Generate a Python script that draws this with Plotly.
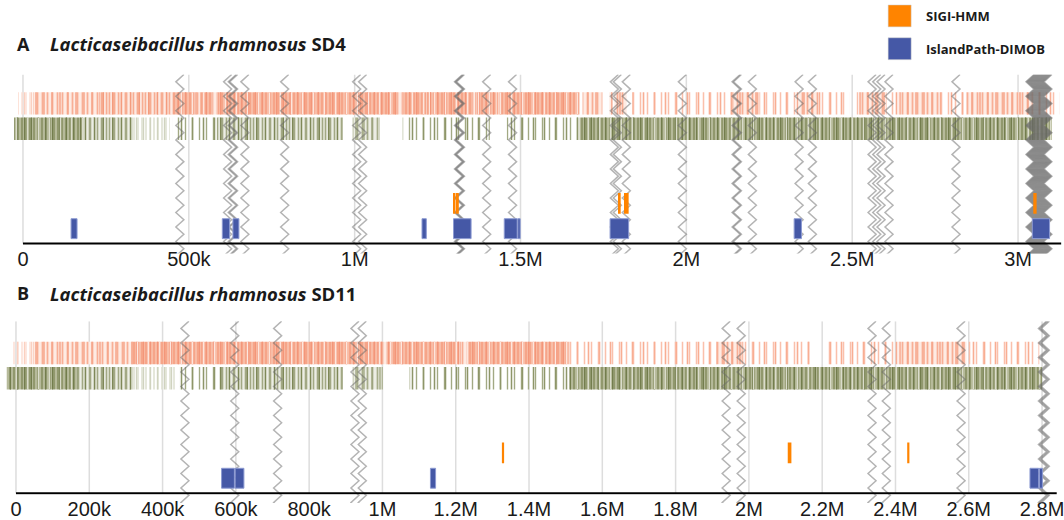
import plotly.graph_objects as go

W, H = 1064, 520

# ---------------- data (positions in kb) ----------------
A_NAME = ("A", "Lacticaseibacillus rhamnosus", "SD4")
B_NAME = ("B", "Lacticaseibacillus rhamnosus", "SD11")

A_LENGTH_KB = 3130
B_LENGTH_KB = 2840

A_TICK_KB = [0, 500, 1000, 1500, 2000, 2500, 3000]
A_TICK_TEXT = ["0", "500k", "1M", "1.5M", "2M", "2.5M", "3M"]
B_TICK_KB = [0, 200, 400, 600, 800, 1000, 1200, 1400, 1600, 1800, 2000, 2200, 2400, 2600, 2800]
B_TICK_TEXT = ["0", "200k", "400k", "600k", "800k", "1M", "1.2M", "1.4M", "1.6M",
               "1.8M", "2M", "2.2M", "2.4M", "2.6M", "2.8M"]

LEGEND_LABELS = ["SIGI-HMM", "IslandPath-DIMOB"]

# predicted islands (start_kb, end_kb)
A_SIGI = [(1298, 1304), (1308, 1314), (1796, 1802), (1812, 1826), (3046, 3056)]
A_DIMOB = [(145, 163), (601, 623), (633, 651), (1203, 1216), (1298, 1351),
           (1451, 1490), (1492, 1499), (1770, 1826), (2325, 2347), (3043, 3095)]
B_SIGI = [(1326, 1332), (2106, 2116), (2432, 2438)]
B_DIMOB = [(561, 596), (598, 622), (1131, 1145), (2767, 2791), (2793, 2801)]

# zigzag markers (kb)
A_MARKERS = [473, 617, 631, 635, 669, 789, 1006, 1024, 1313, 1316, 1319, 1398, 1476,
             1783, 1792, 1819, 1988, 2150, 2154, 2199, 2340, 2380, 2560, 2574, 2587,
             2611, 2813, 3036, 3039, 3042, 3045, 3048, 3051, 3054, 3057, 3060, 3063,
             3066, 3069, 3072, 3075, 3078, 3081, 3084, 3087, 3090]
B_MARKERS = [461, 597, 714, 925, 945, 1938, 1979, 2336, 2375, 2579, 2801, 2805, 2809]

# gene-density bands: (start_kb, end_kb, density level 1=dense .. 5=faint)
A_PLUS = [(-15, 30, 5), (30, 232, 3), (232, 452, 2), (452, 518, 1), (518, 533, 3),
          (533, 572, 1), (572, 587, 3), (587, 1130, 1), (1130, 1145, 3), (1145, 1217, 1),
          (1217, 1226, 3), (1226, 1355, 1), (1355, 1367, 3), (1367, 1428, 1),
          (1428, 1437, 3), (1437, 1678, 1), (1687, 1747, 3), (1768, 1777, 3),
          (1783, 1819, 3), (1837, 2139, 4), (2139, 2220, 3), (2220, 2340, 4),
          (2340, 2400, 3), (2400, 2491, 4), (2512, 2521, 4), (2521, 2602, 3),
          (2602, 2642, 4), (2642, 2762, 3), (2762, 2843, 4), (2843, 3042, 3),
          (3042, 3125, 4)]
A_MINUS = [(-27, 181, 1), (181, 331, 2), (331, 443, 5), (452, 584, 4), (584, 964, 2),
           (994, 1075, 3), (1145, 1286, 4), (1286, 1407, 4), (1458, 1678, 4),
           (1678, 3102, 1)]
B_PLUS = [(-11, 46, 5), (46, 319, 3), (319, 1001, 1), (1001, 1011, 3), (1011, 1210, 1),
          (1210, 1230, 3), (1230, 1510, 1), (1510, 1911, 4), (1911, 1982, 3),
          (1982, 2173, 4), (2211, 2410, 4), (2410, 2593, 3), (2593, 2792, 4)]
B_MINUS = [(-25, 166, 1), (166, 319, 2), (319, 439, 5), (447, 556, 4), (556, 892, 2),
           (919, 1001, 3), (1074, 1510, 4), (1510, 2800, 1)]

# ---------------- styles ----------------
ORANGE = "#FF8400"
BLUE = "#4558A6"
GRID = "#DDDDDD"
ZIG = "rgba(105,105,105,0.5)"
TXT = "#1a1a1a"
CLEAR = "rgba(0,0,0,0)"

# (bgcolor, fgcolor, pattern size, solidity) layers per density level
SALMON_STYLE = {
    1: [("#F8BDA7", "#F6A286", 4, 0.45), (CLEAR, "#F3967A", 7, 0.18), (CLEAR, "#FDE6DD", 11, 0.12)],
    2: [("#FAD0C0", "#F7A98D", 4, 0.45), (CLEAR, "#F49C7E", 9, 0.15), (CLEAR, "#FFFFFF", 6, 0.18)],
    3: [("#FEEBE3", "#F8AF95", 5, 0.35), (CLEAR, "#F6A488", 8, 0.18)],
    4: [(CLEAR, "#FAC0AB", 7, 0.22), (CLEAR, "#F8AE93", 11, 0.15)],
    5: [(CLEAR, "#FCDDD1", 4, 0.35), (CLEAR, "#FBD0C0", 7, 0.2)],
}
OLIVE_STYLE = {
    1: [("#B6BA9A", "#8A9264", 4, 0.42), (CLEAR, "#737D4D", 7, 0.16), (CLEAR, "#DADCCB", 11, 0.12)],
    2: [("#D6D9C6", "#959C73", 4, 0.4), (CLEAR, "#7F8858", 9, 0.15), (CLEAR, "#FFFFFF", 6, 0.18)],
    3: [("#ECEDE4", "#A7AD8A", 5, 0.35), (CLEAR, "#969D75", 8, 0.15)],
    4: [(CLEAR, "#A2A983", 7, 0.2), (CLEAR, "#8E9669", 11, 0.14)],
    5: [(CLEAR, "#DFE1D2", 4, 0.4), (CLEAR, "#D0D3BF", 7, 0.2)],
}

# pixel geometry
A_X0, A_PXKB = 23.0, 0.332     # px of 0, px per kb
B_X0, B_PXKB = 16.0, 0.3668
A_AXIS_PX, B_AXIS_PX = 245.0, 496.0
A_TOP_PX, B_TOP_PX = 75.0, 323.0
BELOW_MAIN, BELOW_ZIG = 1.5, 10.0

Y_PLUS, Y_MINUS, Y_SIGI, Y_DIMOB = 141.0, 115.5, 40.5, 15.0
HW_BAND, HW_SIGI, HW_DIMOB = 22.5, 21.0, 20.0
ZIG_AMP_PX, ZIG_STEP = 4.0, 7.3


def ypaper(px):
    return 1 - px / H


def band_traces(segs, yc, styles, xa, ya):
    out = []
    for lvl, layers in styles.items():
        sel = [s for s in segs if s[2] == lvl]
        if not sel:
            continue
        for bg, fg, size, sol in layers:
            out.append(go.Bar(
                orientation="h", y=[yc] * len(sel), x=[e - s for s, e, _ in sel],
                base=[s for s, _, _ in sel], width=HW_BAND, xaxis=xa, yaxis=ya,
                marker=dict(color=bg, line=dict(width=0),
                            pattern=dict(shape="|", fgcolor=fg, bgcolor=bg, size=size,
                                         solidity=sol, fillmode="replace")),
                hoverinfo="skip", showlegend=False))
    return out


def island_trace(isl, yc, w, color, xa, ya, edge):
    return go.Bar(orientation="h", y=[yc] * len(isl), x=[e - s for s, e in isl],
                  base=[s for s, _ in isl], width=w, xaxis=xa, yaxis=ya,
                  marker=dict(color=color, line=dict(width=1 if edge else 0, color=edge)),
                  hoverinfo="skip", showlegend=False)


def zig_traces(markers, top, bottom, amp, xa, ya):
    out = []
    for m in markers:
        xs, ys = [], []
        y, k = top, 0
        while y >= bottom - ZIG_STEP:
            xs.append(m + (amp if k % 2 == 0 else -amp))
            ys.append(y)
            y -= ZIG_STEP
            k += 1
        out.append(go.Scatter(x=xs, y=ys, mode="lines", xaxis=xa, yaxis=ya,
                              line=dict(color=ZIG, width=1.5), hoverinfo="skip",
                              showlegend=False))
    return out


def axis_key(prefix, ax):
    return prefix if len(ax) == 1 else prefix + ax[1:]


fig = go.Figure()
# subplot order (bottom to top): bands -> zigzag markers -> islands
panels = [
    dict(plus=A_PLUS, minus=A_MINUS, sigi=A_SIGI, dimob=A_DIMOB, markers=A_MARKERS,
         x0=A_X0, pxkb=A_PXKB, axis=A_AXIS_PX, top=A_TOP_PX, main=("x", "y"),
         zig=("x2", "y2"), isl=("x5", "y5"), ticks=A_TICK_KB, ticktext=A_TICK_TEXT,
         length=A_LENGTH_KB, name=A_NAME),
    dict(plus=B_PLUS, minus=B_MINUS, sigi=B_SIGI, dimob=B_DIMOB, markers=B_MARKERS,
         x0=B_X0, pxkb=B_PXKB, axis=B_AXIS_PX, top=B_TOP_PX, main=("x3", "y3"),
         zig=("x4", "y4"), isl=("x6", "y6"), ticks=B_TICK_KB, ticktext=B_TICK_TEXT,
         length=B_LENGTH_KB, name=B_NAME),
]

layout = dict(width=W, height=H, margin=dict(l=0, r=0, t=0, b=0),
              paper_bgcolor="white", plot_bgcolor=CLEAR, barmode="overlay",
              showlegend=False, shapes=[], annotations=[])

for i, p in enumerate(panels):
    xa, ya = p["main"]
    zxa, zya = p["zig"]
    ixa, iya = p["isl"]
    xr = [-p["x0"] / p["pxkb"], (W - p["x0"]) / p["pxkb"]]
    ytop = p["axis"] - p["top"]
    for t in band_traces(p["plus"], Y_PLUS, SALMON_STYLE, xa, ya):
        fig.add_trace(t)
    for t in band_traces(p["minus"], Y_MINUS, OLIVE_STYLE, xa, ya):
        fig.add_trace(t)
    for t in zig_traces(p["markers"], ytop, -BELOW_ZIG, ZIG_AMP_PX / p["pxkb"], zxa, zya):
        fig.add_trace(t)
    fig.add_trace(island_trace(p["sigi"], Y_SIGI, HW_SIGI, ORANGE, ixa, iya, None))
    fig.add_trace(island_trace(p["dimob"], Y_DIMOB, HW_DIMOB, BLUE, ixa, iya, "#8C9AD2"))

    main_dom = [ypaper(p["axis"] + BELOW_MAIN), ypaper(p["top"])]
    layout[axis_key("xaxis", xa)] = dict(
        domain=[0, 1], range=xr, anchor=ya, tickvals=p["ticks"],
        ticktext=p["ticktext"], showgrid=False, zeroline=False, showline=False,
        ticks="", fixedrange=True, ticklabeloverflow="allow",
        tickfont=dict(family="Liberation Sans, Arial", size=20, color=TXT))
    layout[axis_key("yaxis", ya)] = dict(domain=main_dom, range=[-BELOW_MAIN, ytop],
                                         anchor=xa, visible=False, fixedrange=True)
    layout[axis_key("xaxis", zxa)] = dict(domain=[0, 1], range=xr, anchor=zya,
                                          visible=False, fixedrange=True)
    layout[axis_key("yaxis", zya)] = dict(
        domain=[ypaper(p["axis"] + BELOW_ZIG), ypaper(p["top"])],
        range=[-BELOW_ZIG, ytop], anchor=zxa, visible=False, fixedrange=True)
    layout[axis_key("xaxis", ixa)] = dict(domain=[0, 1], range=xr, anchor=iya,
                                          visible=False, fixedrange=True)
    layout[axis_key("yaxis", iya)] = dict(domain=main_dom, range=[-BELOW_MAIN, ytop],
                                          anchor=ixa, visible=False, fixedrange=True)

    for tv in p["ticks"]:
        layout["shapes"].append(dict(type="line", xref=xa, yref=ya, x0=tv, x1=tv, y0=0,
                                     y1=ytop, layer="below",
                                     line=dict(color=GRID, width=1.5)))
    layout["shapes"].append(dict(type="line", xref=xa, yref=ya, x0=0, x1=p["length"],
                                 y0=0, y1=0, layer="above",
                                 line=dict(color="black", width=2)))

    letter, species, strain = p["name"]
    ty = 44 if i == 0 else 295
    layout["annotations"].append(dict(
        text="<b>%s</b>" % letter, xref="paper", yref="paper", x=15 / W, y=ypaper(ty),
        xanchor="left", yanchor="middle", showarrow=False,
        font=dict(family="Open Sans", size=18, color=TXT)))
    layout["annotations"].append(dict(
        text="<b><i>%s</i> %s</b>" % (species, strain), xref="paper", yref="paper",
        x=48 / W, y=ypaper(ty), xanchor="left", yanchor="middle", showarrow=False,
        font=dict(family="Open Sans", size=18.5, color=TXT)))

# legend
for j, (lab, col) in enumerate(zip(LEGEND_LABELS, [ORANGE, BLUE])):
    cy = 16 + 33 * j
    layout["shapes"].append(dict(type="rect", xref="paper", yref="paper",
                                 x0=889 / W, x1=912 / W, y0=ypaper(cy + 11),
                                 y1=ypaper(cy - 11), fillcolor=col,
                                 line=dict(color="#cccccc", width=0.5)))
    layout["annotations"].append(dict(
        text="<b>%s</b>" % lab, xref="paper", yref="paper", x=925 / W, y=ypaper(cy),
        xanchor="left", yanchor="middle", showarrow=False,
        font=dict(family="Open Sans", size=13, color=TXT)))

fig.update_layout(**layout)
fig.write_html("out.html", config={"displayModeBar": False},
               post_script="document.body.style.margin='0px';"
                           "document.body.style.overflow='hidden';")
